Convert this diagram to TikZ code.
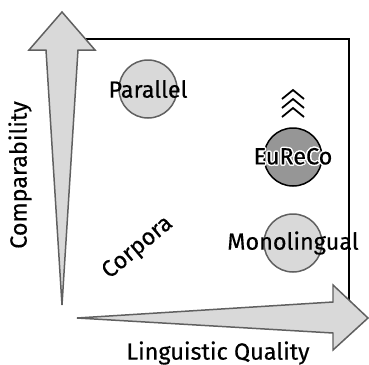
\documentclass[tikz,border=0pt]{standalone}
\usepackage{fontspec}
\setmainfont{Fira Sans}[UprightFeatures={FakeBold=0.4}]
\usepackage[copies]{contour}
\contournumber{12}
\contourlength{1.4pt}
\usetikzlibrary{calc, shapes.geometric, positioning}
\definecolor{dotgray}{RGB}{217,217,217}
\definecolor{edgegray}{RGB}{96,96,96}
\definecolor{darkdot}{RGB}{150,150,150}
\newcommand\corpusdot[5]{\draw[fill=#4, draw=#5, line width=1.5pt] (#1,#2) circle (29);}

\begin{document}
\begin{tikzpicture}[x=1bp, y=-1bp, font=\fontsize{23.5}{28}\selectfont]
\useasboundingbox (0,0) rectangle (369,365);
\draw[line width=2.6pt] (62,39) -- (349,39) -- (349,318);

\corpusdot{148}{89}{par}{dotgray}{edgegray}
\corpusdot{293}{157}{eur}{darkdot}{black}
\corpusdot{293}{243}{mono}{dotgray}{edgegray}
\node (par) at (148,89) {Parallel};
\node (eur) at (293,157) {\contour{white}{EuReCo}};
\node (mono) at (293,243) {Monolingual};

\draw[line width=1.8pt] (282,99) -- (293,90) -- (304,99);
\draw[line width=1.8pt] (282,108) -- (293,99) -- (304,108);
\draw[line width=1.8pt] (282,117) -- (293,108) -- (304,117);

\draw[fill=dotgray, draw=edgegray, line width=1.5pt, line join=miter] (62,305) -- (46,50) -- (29,50) -- (62,12) -- (95,50) -- (78,50) -- cycle;
\draw[fill=dotgray, draw=edgegray, line width=1.5pt, line join=miter] (77,318) -- (333,302) -- (333,285) -- (368,318) -- (333,350) -- (333,333) -- cycle;

\node (comp) at (20,175) [rotate=90] {Comparability};
\node (corp) at (138,248) [rotate=40] {Corpora};
\node (ling) at (218,353) {Linguistic Quality};
\end{tikzpicture}
\end{document}
